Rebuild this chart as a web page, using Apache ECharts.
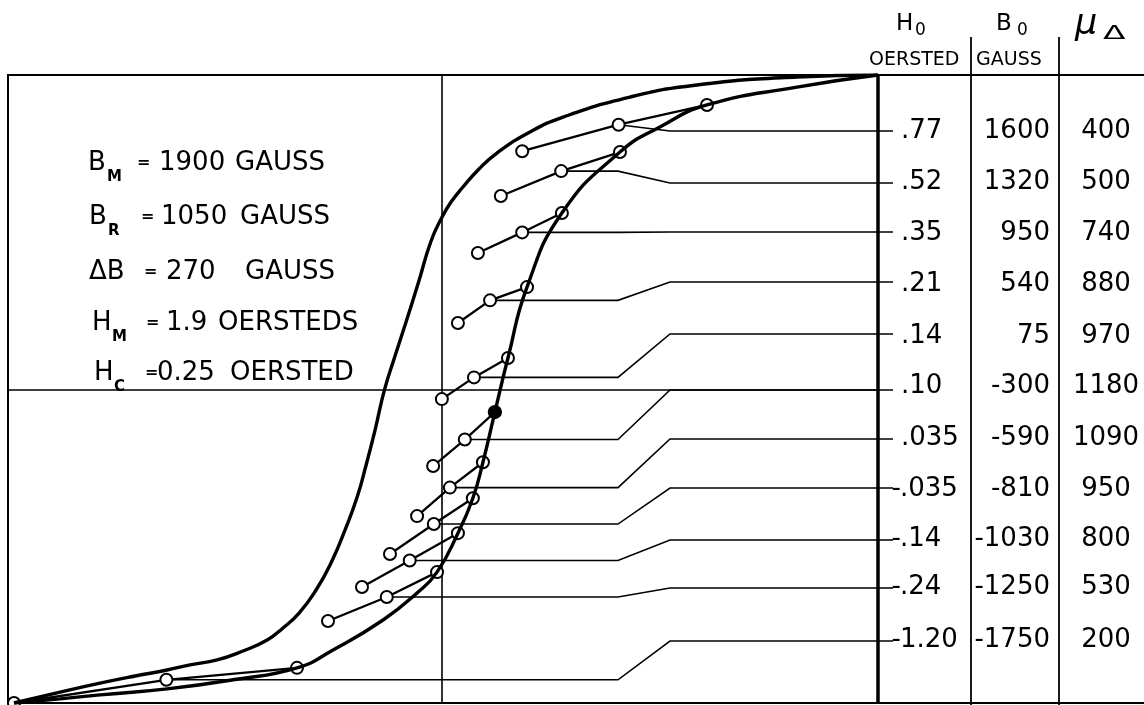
<!DOCTYPE html>
<html>
<head>
<meta charset="utf-8">
<script src="https://cdn.jsdelivr.net/npm/echarts@6/dist/echarts.min.js"></script>
<style>
  html, body { margin: 0; padding: 0; background: #fff; }
  #chart { width: 1144px; height: 705px; }
</style>
</head>
<body>
<div id="chart"></div>
<script>
// Major hysteresis loop, H in oersted, B in gauss
const descH = [1.9, 1.547, 1.111, 0.820, 0.528, 0.376, 0.240, 0.162, 0.092, 0.040, 0, -0.047, -0.104, -0.156, -0.204, -0.25, -0.291, -0.330, -0.369, -0.422, -0.483, -0.548, -0.622, -0.692, -0.761, -0.866, -0.979, -1.097, -1.197, -1.336, -1.489, -1.663, -1.864];
const descB = [1900, 1888, 1840, 1767, 1646, 1550, 1429, 1333, 1224, 1133, 1040, 898, 638, 409, 204, 0, -243, -454, -647, -846, -1045, -1208, -1347, -1437, -1510, -1576, -1630, -1660, -1691, -1727, -1770, -1824, -1890];
const ascH = [-1.864, -1.663, -1.489, -1.197, -0.910, -0.631, -0.474, -0.256, -0.108, -0.021, 0.070, 0.135, 0.179, 0.231, 0.288, 0.371, 0.523, 0.776, 0.950, 1.155, 1.547, 1.9];
const ascB = [-1890, -1865, -1841, -1805, -1750, -1678, -1570, -1389, -1226, -1100, -865, -654, -437, -134, 192, 620, 1067, 1435, 1586, 1719, 1827, 1900];

// Incremental (minor) loops: bias point H0/B0 with incremental permeability
const H0 = ['.77', '.52', '.35', '.21', '.14', '.10', '.035', '-.035', '-.14', '-.24', '-1.20'];
const B0 = [1600, 1320, 950, 540, 75, -300, -590, -810, -1030, -1250, -1750];
const MU = [400, 500, 740, 880, 970, 1180, 1090, 950, 800, 530, 200];
// loop end points (lower end / upper end on the rising branch)
const lowH = [0.35, 0.257, 0.157, 0.07, 0.0, -0.038, -0.108, -0.226, -0.348, -0.496, -1.864];
const lowB = [1440, 1170, 826, 403, -56, -460, -762, -991, -1190, -1395, -1890];
const highH = [1.155, 0.776, 0.523, 0.371, 0.288, 0.231, 0.179, 0.135, 0.070, -0.021, -0.631];
const highB = [1719, 1435, 1067, 620, 192, -134, -437, -654, -865, -1100, -1678];

// Material constants
const params = [
  { sym: 'B', sub: 'M', val: '1900', unit: 'GAUSS' },
  { sym: 'B', sub: 'R', val: '1050', unit: 'GAUSS' },
  { sym: '\u0394B', sub: '', val: '270', unit: 'GAUSS' },
  { sym: 'H', sub: 'M', val: '1.9', unit: 'OERSTEDS' },
  { sym: 'H', sub: 'C', val: '0.25', unit: 'OERSTED' }
];

// ---- layout ----
const FONT = '"DejaVu Sans", sans-serif';
const leaderY = [131, 183, 232, 282, 334, 390, 439, 488, 540, 588, 641];
const rowTextY = [131, 182, 233, 284, 336, 386, 438, 489, 539, 587, 640];
const paramLayout = [
  { base: 173, symX: 88, subX: 107, eqX: 137, valX: 159, unitX: 235 },
  { base: 227, symX: 89, subX: 108, eqX: 141, valX: 161, unitX: 240 },
  { base: 282, symX: 89, subX: 0, eqX: 144, valX: 166, unitX: 245 },
  { base: 333, symX: 92, subX: 112, eqX: 146, valX: 166, unitX: 218 },
  { base: 383, symX: 94, subX: 114, eqX: 145, valX: 157, unitX: 230 }
];

const chart = echarts.init(document.getElementById('chart'), null, { renderer: 'canvas' });

const pairs = (xs, ys) => xs.map((x, i) => [x, ys[i]]);

const loopSeries = H0.map((h, i) => ({
  type: 'line',
  name: 'loop ' + h,
  z: 2,
  data: [
    [lowH[i], lowB[i]],
    [parseFloat(h), B0[i]],
    i === 5 ? { value: [highH[i], highB[i]], symbol: 'circle' } : [highH[i], highB[i]]
  ],
  symbol: 'emptyCircle',
  symbolSize: 12,
  itemStyle: { color: '#000', borderColor: '#000', borderWidth: 2.3 },
  lineStyle: { color: '#000', width: 2.3 },
  animation: false
}));

chart.setOption({
  animation: false,
  backgroundColor: '#fff',
  grid: {
    left: 8, top: 75, width: 870, height: 628,
    show: true, borderColor: '#000', borderWidth: 2
  },
  xAxis: {
    type: 'value', min: -1.89, max: 1.9,
    axisLine: { show: true, onZero: true, lineStyle: { color: '#000', width: 1.6 } },
    axisTick: { show: false }, axisLabel: { show: false }, splitLine: { show: false }
  },
  yAxis: {
    type: 'value', min: -1890, max: 1900,
    axisLine: { show: true, onZero: true, lineStyle: { color: '#000', width: 1.6 } },
    axisTick: { show: false }, axisLabel: { show: false }, splitLine: { show: false }
  },
  series: [
    ...loopSeries,
    {
      type: 'line', name: 'descending', z: 3,
      data: pairs(descH, descB), smooth: 0.5, showSymbol: false,
      lineStyle: { color: '#000', width: 3.4 }
    },
    {
      type: 'line', name: 'ascending', z: 3,
      data: pairs(ascH, ascB), smooth: 0.5, showSymbol: false,
      lineStyle: { color: '#000', width: 3.4 }
    }
  ]
});

// ---- annotations drawn on top of the scales ----
const g = [];
const line = (x1, y1, x2, y2, w) => g.push({
  type: 'line', z: 1, shape: { x1, y1, x2, y2 },
  style: { stroke: '#000', lineWidth: w }
});
const text = (x, y, s, size, opts) => g.push({
  type: 'text', z: 5, x, y,
  style: Object.assign({
    text: s, font: size + 'px ' + FONT, fill: '#000',
    align: 'left', verticalAlign: 'middle'
  }, opts || {})
});

// table frame
line(878, 75, 1144, 75, 2);
line(878, 703, 1144, 703, 2);
line(878, 74, 878, 704, 3.5);
line(971, 37, 971, 705, 1.8);
line(1059, 37, 1059, 705, 1.8);

// leaders from each bias point to its table row
H0.forEach((h, i) => {
  const c = chart.convertToPixel({ gridIndex: 0 }, [parseFloat(h), B0[i]]);
  const ex = Math.max(c[0], 618);
  g.push({
    type: 'polyline', z: 1,
    shape: { points: [c, [ex, c[1]], [670, leaderY[i]], [893, leaderY[i]]] },
    style: { stroke: '#000', lineWidth: 1.6, fill: null }
  });
});

// table values
H0.forEach((h, i) => {
  const y = rowTextY[i];
  if (h.charAt(0) === '-') {
    text(901, y, '-', 26, { align: 'right' });
    text(900, y, h.slice(1), 26);
  } else {
    text(901, y, h, 26);
  }
  text(1050, y, B0[i] < 0 ? '-' + Math.abs(B0[i]) : String(B0[i]), 26, { align: 'right' });
  text(1106, y, String(MU[i]), 26, { align: 'center' });
});

// table header
text(896, 24, 'H', 23);
text(915, 31, '0', 17);
text(996, 24, 'B', 23);
text(1017, 31, '0', 17);
text(869, 60, 'OERSTED', 19);
text(976, 60, 'GAUSS', 19);
text(1075, 25, '\u03bc', 35, { font: 'italic 35px ' + FONT });
g.push({
  type: 'text', z: 5, x: 1103, y: 34, scaleX: 1.65, scaleY: 0.95,
  style: { text: '\u0394', font: '20px ' + FONT, fill: '#000', align: 'left', verticalAlign: 'middle' }
});

// material constants
params.forEach((p, i) => {
  const L = paramLayout[i];
  const cy = L.base - 10;
  text(L.symX, cy, p.sym, 26);
  if (p.sub) text(L.subX, L.base + 4, p.sub, 15, { font: 'bold 15px ' + FONT });
  text(L.eqX, cy, '=', 16, { font: 'bold 16px ' + FONT });
  text(L.valX, cy, p.val, 26);
  text(L.unitX, cy, p.unit, 26);
});

chart.setOption({ graphic: g });
</script>
</body>
</html>
